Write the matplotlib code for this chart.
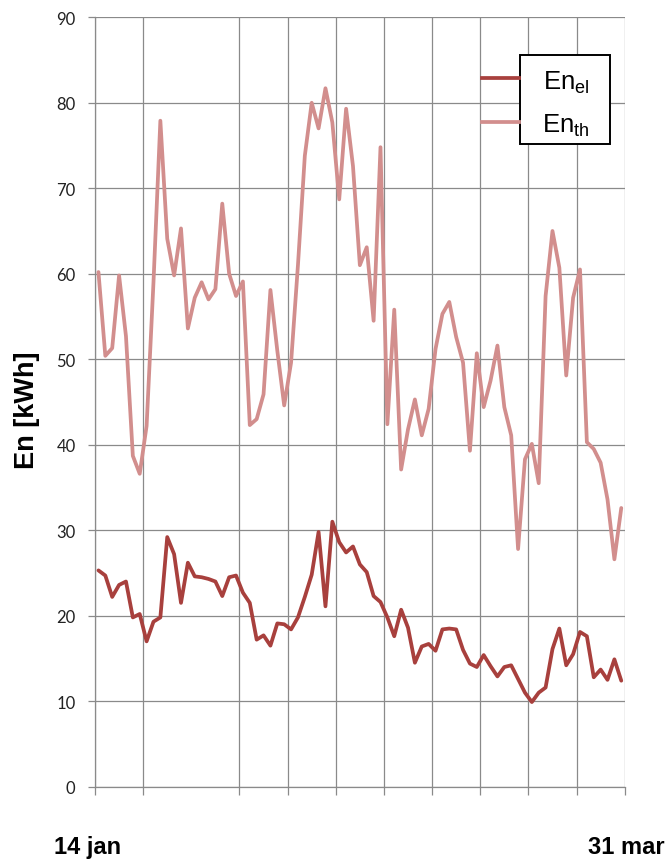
import numpy as np
import matplotlib.pyplot as plt
from matplotlib.patches import Rectangle

# ============================================================
# 0. Daily energy data, 14 jan - 31 mar
# ============================================================
EN_EL = [
    25.3, 24.7, 22.2, 23.6, 24.0, 19.8, 20.2, 17.0, 19.3, 19.8,
    29.2, 27.2, 21.5, 26.2, 24.6, 24.5, 24.3, 24.0, 22.3, 24.5,
    24.7, 22.7, 21.5, 17.2, 17.7, 16.5, 19.1, 19.0, 18.4, 19.8,
    22.2, 24.8, 29.8, 21.1, 31.0, 28.6, 27.4, 28.1, 26.0, 25.1,
    22.3, 21.6, 19.8, 17.6, 20.7, 18.6, 14.5, 16.4, 16.7, 15.9,
    18.4, 18.5, 18.4, 16.0, 14.4, 14.0, 15.4, 14.1, 12.9, 14.0,
    14.2, 12.6, 11.0, 9.9, 11.0, 11.6, 16.1, 18.5, 14.2, 15.5,
    18.1, 17.6, 12.8, 13.7, 12.5, 14.9, 12.4,
]

EN_TH = [
    60.2, 50.4, 51.3, 59.8, 52.7, 38.7, 36.6, 42.2, 59.0, 77.9,
    64.1, 59.8, 65.3, 53.6, 57.2, 59.0, 57.0, 58.2, 68.2, 60.0,
    57.4, 59.1, 42.3, 43.0, 45.9, 58.1, 51.0, 44.6, 49.6, 61.0,
    73.8, 80.0, 77.0, 81.7, 77.7, 68.7, 79.3, 72.6, 61.0, 63.1,
    54.5, 74.8, 42.4, 55.8, 37.1, 41.8, 45.3, 41.1, 44.2, 51.2,
    55.3, 56.7, 52.6, 49.6, 39.3, 50.7, 44.4, 47.5, 51.6, 44.4,
    41.1, 27.8, 38.3, 40.1, 35.5, 57.4, 65.0, 60.7, 48.1, 57.2,
    60.5, 40.3, 39.5, 37.9, 33.6, 26.6, 32.6,
]

# weekly date gridlines (day offsets from 14 jan); the day-14 line is not drawn
WEEK_TICKS = [0, 7, 21, 28, 35, 42, 49, 56, 63, 70, 77]
Y_TICKS = list(range(0, 91, 10))

COLOR_EL = "#A8403D"
COLOR_TH = "#D28E8D"
GRID_COLOR = "#8A8A8A"
LINE_W = 2.7

plt.rcParams["font.family"] = ["Liberation Sans", "DejaVu Sans"]

# ============================================================
# 1. Figure and axes
# ============================================================
fig = plt.figure(figsize=(6.7, 8.62), dpi=100)
ax = fig.add_axes([0.1418, 0.0862, 0.7906, 0.8926])

days = np.arange(len(EN_EL)) + 0.5

ax.plot(days, EN_EL, color=COLOR_EL, linewidth=LINE_W,
        solid_joinstyle="round", solid_capstyle="round", zorder=3)
ax.plot(days, EN_TH, color=COLOR_TH, linewidth=LINE_W,
        solid_joinstyle="round", solid_capstyle="round", zorder=3)

ax.set_xlim(0, 77)
ax.set_ylim(0, 90)
ax.set_xticks(WEEK_TICKS)
ax.set_xticklabels([])
ax.set_yticks(Y_TICKS)
ax.set_yticklabels([str(v) for v in Y_TICKS], fontfamily="Lato",
                   fontsize=12, color="#222222")

ax.grid(True, color=GRID_COLOR, linewidth=0.9)
ax.set_axisbelow(True)
for side in ["top", "right"]:
    ax.spines[side].set_visible(False)
for side in ["left", "bottom"]:
    ax.spines[side].set_color(GRID_COLOR)
    ax.spines[side].set_linewidth(0.9)
ax.tick_params(axis="both", colors=GRID_COLOR, width=0.9)
ax.tick_params(axis="y", length=5, pad=9, labelcolor="#222222")
ax.tick_params(axis="x", length=6)

ax.set_ylabel("En [kWh]", fontsize=19.5, fontweight="bold")
ax.yaxis.set_label_coords(-0.104, 0.49)

# ============================================================
# 2. Legend: line samples sit left of the framed labels
# ============================================================
ax.add_patch(Rectangle((0.802, 0.835), 0.170, 0.116, transform=ax.transAxes,
                       facecolor="white", edgecolor="black", linewidth=1.4,
                       zorder=5, clip_on=False))
ax.plot([0.730, 0.801], [0.921, 0.921], color=COLOR_EL, linewidth=LINE_W,
        transform=ax.transAxes, zorder=5, clip_on=False)
ax.plot([0.730, 0.801], [0.864, 0.864], color=COLOR_TH, linewidth=LINE_W,
        transform=ax.transAxes, zorder=5, clip_on=False)
ax.text(0.846, 0.907, r"En$_\mathregular{el}$", transform=ax.transAxes,
        fontsize=18.5, ha="left", va="baseline", zorder=6)
ax.text(0.844, 0.851, r"En$_\mathregular{th}$", transform=ax.transAxes,
        fontsize=18.5, ha="left", va="baseline", zorder=6)

# ============================================================
# 3. Date range labels
# ============================================================
fig.text(87.5 / 670, 7.5 / 862, "14 jan", fontsize=17, fontweight="bold",
         ha="center", va="baseline")
fig.text(626.5 / 670, 7.5 / 862, "31 mar", fontsize=17, fontweight="bold",
         ha="center", va="baseline")

fig.savefig("out.png", dpi=100)
